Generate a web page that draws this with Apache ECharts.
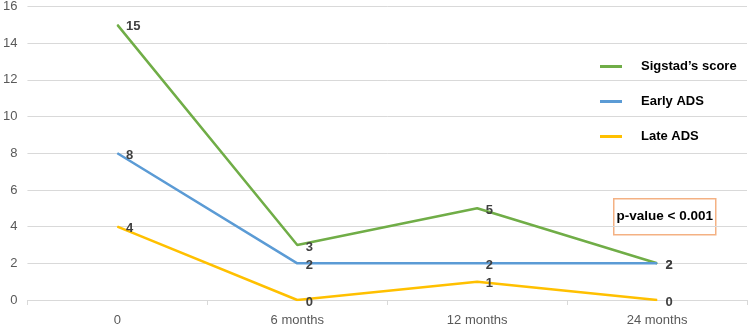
<!DOCTYPE html>
<html>
<head>
<meta charset="utf-8">
<script src="https://cdn.jsdelivr.net/npm/echarts@6/dist/echarts.min.js"></script>
<style>
  html, body { margin: 0; padding: 0; background: #fff; }
  #main { width: 749px; height: 327px; }
</style>
</head>
<body>
<div id="main"></div>
<script>
var categories = ['0', '6 months', '12 months', '24 months'];
var sigstad = [15, 3, 5, 2];
var earlyADS = [8, 2, 2, 2];
var lateADS = [4, 0, 1, 0];
var seriesNames = ['Sigstad\u2019s score', 'Early ADS', 'Late ADS'];
var seriesColors = ['#70ad47', '#5b9bd5', '#ffc000'];

function makeLine(name, data, color) {
    return {
        name: name,
        type: 'line',
        data: data,
        symbol: 'circle',
        symbolSize: 1,
        lineStyle: { color: color, width: 2.5 },
        itemStyle: { color: color },
        label: {
            show: true,
            position: 'right',
            distance: 8,
            offset: [0, 2],
            color: '#404040',
            fontWeight: 'bold',
            fontSize: 13,
            fontFamily: 'Liberation Sans'
        },
        emphasis: { disabled: true }
    };
}

var myChart = echarts.init(document.getElementById('main'));
var option = {
    animation: false,
    color: seriesColors,
    grid: { left: 26, right: 2, top: 6, bottom: 27 },
    legend: {
        orient: 'vertical',
        left: 595,
        top: 55,
        itemWidth: 22,
        itemHeight: 3,
        itemGap: 22,
        icon: 'rect',
        data: seriesNames,
        textStyle: {
            color: '#000',
            fontWeight: 'bold',
            fontSize: 13,
            fontFamily: 'Liberation Sans',
            padding: [0, 0, 0, 14]
        }
    },
    xAxis: {
        type: 'category',
        data: categories,
        boundaryGap: true,
        axisLine: { lineStyle: { color: '#d9d9d9', width: 1 } },
        axisTick: { show: true, length: 5, lineStyle: { color: '#d9d9d9' } },
        axisLabel: {
            color: '#595959',
            fontSize: 13,
            fontFamily: 'Liberation Sans',
            margin: 14
        }
    },
    yAxis: {
        type: 'value',
        min: 0,
        max: 16,
        interval: 2,
        axisLine: { show: false },
        axisTick: { show: false },
        axisLabel: {
            color: '#595959',
            fontSize: 13,
            fontFamily: 'Liberation Sans',
            margin: 10
        },
        splitLine: { lineStyle: { color: '#d9d9d9', width: 1 } }
    },
    graphic: [
        {
            type: 'group',
            left: 613,
            top: 198,
            children: [
                {
                    type: 'rect',
                    shape: { x: 0, y: 0, width: 102, height: 36 },
                    style: { fill: '#fff', stroke: '#f4b183', lineWidth: 1.5 }
                },
                {
                    type: 'text',
                    x: 51,
                    y: 18,
                    style: {
                        text: 'p-value < 0.001',
                        fill: '#000',
                        font: 'bold 13.5px "Liberation Sans"',
                        align: 'center',
                        verticalAlign: 'middle'
                    }
                }
            ]
        }
    ],
    series: [
        makeLine(seriesNames[0], sigstad, seriesColors[0]),
        makeLine(seriesNames[1], earlyADS, seriesColors[1]),
        makeLine(seriesNames[2], lateADS, seriesColors[2])
    ]
};
myChart.setOption(option);
</script>
</body>
</html>
